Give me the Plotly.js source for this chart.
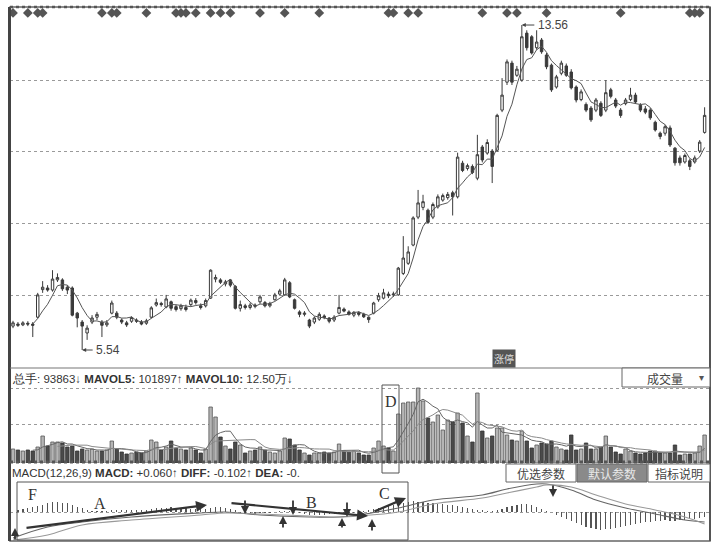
<!DOCTYPE html>
<html><head><meta charset="utf-8">
<script src="https://cdn.plot.ly/plotly-3.0.1.min.js"></script>
<style>html,body{margin:0;padding:0;background:#fff}#c{width:721px;height:551px}</style>
</head><body><div id="c"></div>
<script>
// ---- data ----
const opens = [6.13,6.18,6.16,6.20,6.18,6.35,7.03,7.07,7.02,7.27,
7.27,7.09,7.07,6.45,6.23,5.96,6.23,6.35,6.23,6.16,
6.45,6.45,6.28,6.21,6.25,6.28,6.23,6.20,6.35,6.65,
6.69,6.60,6.73,6.61,6.56,6.59,6.66,6.76,6.63,6.63,
6.82,7.29,7.27,7.17,7.27,7.11,6.57,6.63,6.59,6.65,
6.73,6.71,6.63,6.78,6.92,6.90,7.20,6.78,6.48,6.42,
6.28,6.23,6.30,6.38,6.33,6.28,6.45,6.55,6.48,6.40,
6.46,6.42,6.35,6.45,6.78,6.82,6.92,6.90,6.90,7.43,
7.68,8.13,8.82,9.06,8.99,8.82,9.07,9.24,9.30,9.42,
9.32,10.15,10.02,10.07,9.78,10.55,10.40,10.45,10.47,11.46,
12.15,12.62,12.32,12.20,13.36,13.27,13.00,13.19,12.82,12.57,
12.03,12.37,12.55,12.40,12.03,11.72,11.60,11.51,11.46,11.63,
11.46,11.96,11.71,11.46,11.62,11.72,11.83,11.58,11.49,11.46,
11.16,10.89,10.89,11.02,10.52,10.28,10.18,10.21,10.18,10.45,
10.91];
const highs = [6.26,6.23,6.25,6.25,6.23,6.95,7.24,7.14,7.51,7.43,
7.31,7.14,7.11,6.48,6.28,6.15,6.40,6.48,6.28,6.28,
6.76,6.50,6.32,6.26,6.37,6.32,6.28,6.31,6.62,6.81,
6.73,6.90,6.76,6.66,6.68,6.66,6.81,6.82,6.69,6.81,
7.53,7.40,7.31,7.27,7.29,7.14,6.76,6.68,6.71,6.69,
6.90,6.75,6.73,6.95,7.05,7.32,7.24,6.81,6.52,6.50,
6.31,6.37,6.47,6.42,6.35,6.40,6.90,6.59,6.52,6.50,
6.50,6.46,6.37,6.73,6.95,7.05,6.98,6.98,7.59,8.35,
8.10,8.84,9.49,9.37,9.03,9.18,9.38,9.40,9.44,9.47,
10.41,10.21,10.14,10.12,10.85,10.60,10.74,10.50,11.37,12.25,
12.71,12.68,12.55,13.56,13.43,13.31,13.43,13.24,12.87,12.61,
12.33,12.68,12.61,12.47,12.07,11.97,11.65,11.56,11.76,11.68,
12.20,12.01,11.76,11.51,11.76,12.01,11.89,11.63,11.56,11.51,
11.20,10.93,11.10,11.08,10.55,10.34,10.39,10.26,10.34,10.72,
11.53];
const lows = [6.08,6.11,6.13,6.13,5.86,6.32,6.95,6.98,6.98,7.22,
7.00,6.92,6.37,6.10,5.54,5.79,6.18,6.28,5.86,6.11,
6.42,6.30,6.18,6.11,6.21,6.21,6.15,6.16,6.32,6.61,
6.61,6.57,6.51,6.49,6.51,6.49,6.61,6.66,6.54,6.59,
6.80,7.21,7.17,7.11,7.09,6.54,6.49,6.54,6.54,6.57,
6.68,6.59,6.59,6.76,6.88,6.88,6.82,6.54,6.35,6.37,
6.08,6.18,6.26,6.30,6.20,6.23,6.42,6.47,6.39,6.35,
6.37,6.33,6.21,6.42,6.73,6.79,6.82,6.85,6.88,7.39,
7.64,8.10,8.77,8.99,8.65,8.77,9.03,9.20,9.25,8.86,
9.28,9.93,9.97,9.88,9.73,10.17,10.36,9.66,10.43,11.41,
12.08,12.08,12.28,12.16,12.93,12.83,12.95,12.85,12.47,11.91,
11.99,12.32,12.28,11.97,11.65,11.68,11.41,11.17,11.41,11.29,
11.41,11.75,11.51,11.27,11.58,11.68,11.62,11.41,11.36,11.22,
10.93,10.74,10.83,10.55,10.09,10.09,10.14,9.98,10.14,10.40,
10.88];
const closes = [6.21,6.15,6.21,6.18,6.15,6.90,7.09,7.02,7.29,7.33,
7.05,7.02,6.40,6.33,6.13,6.08,6.33,6.42,6.15,6.21,
6.70,6.35,6.23,6.16,6.34,6.25,6.18,6.26,6.58,6.71,
6.66,6.80,6.57,6.54,6.63,6.54,6.77,6.71,6.59,6.76,
7.51,7.33,7.21,7.22,7.14,6.57,6.66,6.59,6.65,6.62,
6.85,6.63,6.69,6.90,7.00,7.27,6.85,6.57,6.42,6.45,
6.13,6.33,6.42,6.34,6.25,6.35,6.59,6.50,6.42,6.47,
6.42,6.36,6.29,6.70,6.88,6.95,6.88,6.92,7.56,7.81,
7.96,8.80,9.17,9.20,8.69,9.13,9.32,9.35,9.38,9.32,
10.30,9.97,10.09,9.92,10.36,10.23,10.66,10.07,11.33,11.83,
12.65,12.15,12.47,13.27,13.00,12.87,13.14,12.90,12.53,11.96,
12.28,12.62,12.32,12.01,11.71,11.91,11.46,11.22,11.71,11.33,
11.89,11.80,11.56,11.33,11.71,11.83,11.66,11.46,11.41,11.27,
10.97,10.81,11.05,10.60,10.16,10.16,10.34,10.07,10.28,10.67,
11.33];
const volumes = [105000,97500,90000,97500,90000,120000,202500,127500,157500,157500,
150000,120000,127500,90000,105000,97500,105000,90000,90000,97500,
165000,105000,82500,67500,75000,82500,75000,90000,172500,157500,
97500,120000,165000,112500,105000,97500,112500,97500,75000,105000,
420000,345000,195000,127500,105000,157500,135000,75000,90000,97500,
120000,97500,82500,75000,90000,187500,180000,135000,97500,75000,
60000,75000,75000,82500,75000,82500,142500,90000,82500,90000,
75000,60000,60000,112500,165000,127500,112500,90000,367500,450000,
457500,457500,562500,465000,337500,307500,360000,247500,322500,307500,
375000,300000,202500,157500,525000,240000,187500,202500,262500,262500,
210000,172500,165000,240000,165000,112500,135000,150000,142500,165000,
120000,105000,97500,210000,97500,105000,150000,105000,105000,120000,
202500,120000,82500,67500,105000,90000,75000,67500,75000,90000,
90000,75000,75000,75000,135000,60000,67500,67500,75000,127500,
210000];
const macdHist = [0,
0.02,0.03,0.04,0.05,0.06,0.07,0.09,0.10,0.10,0.09,0.09,0.07,0.05,0.04,0.02,0.01,
0.01,0.01,0.01,0.02,0.02,0.02,0.02,0.02,0.02,0.02,0.02,0.03,0.04,0.04,0.04,0.05,0.04,0.04,0.04,0.03,0.03,0.03,0.03,0.04,0.05,0.05,0.04,0.03,0.02,
-0.01,-0.02,-0.02,-0.02,-0.01,-0.01,-0.01,0.00,0.01,0.01,0.01,0.00,-0.01,-0.02,-0.03,-0.03,-0.03,-0.03,-0.02,-0.02,-0.02,-0.01,-0.01,-0.01,0.01,0.01,
0.02,0.03,0.04,0.05,0.06,0.07,0.08,0.09,0.10,
0.11,0.10,0.10,0.09,0.09,0.08,0.08,0.07,0.07,0.06,0.05,0.04,
0.03,0.02,0.02,0.01,0.01,0.02,0.03,
0.05,0.06,0.07,0.08,0.08,0.07,0.05,0.03,
0.01,0.00,
-0.03,-0.05,-0.07,-0.09,-0.11,-0.13,-0.15,-0.16,-0.17,-0.18,-0.17,-0.17,-0.16,-0.15,-0.14,-0.13,-0.12,-0.11,-0.10,-0.10,-0.09,-0.09,-0.08,-0.09,-0.09,-0.08,-0.08,-0.07,-0.07,-0.06,-0.05];
const lineIdx = [0,7,14,24,38,43,50,60,66,70,78,85,95,100,106,108,113,118,124,130,136,140];
const difVals = [-0.26,-0.15,-0.10,-0.05,-0.01,0.00,-0.03,-0.05,-0.05,-0.03,0.04,0.12,0.17,0.23,0.28,0.28,0.22,0.12,0.04,-0.02,-0.08,-0.10];
const deaVals = [-0.28,-0.23,-0.13,-0.08,-0.03,-0.01,-0.02,-0.04,-0.05,-0.04,0.00,0.08,0.14,0.19,0.25,0.27,0.25,0.17,0.08,0.02,-0.05,-0.12];
const markerIdx = [0,3,5,6,18,20,21,27,33,34,35,37,40,42,44,50,55,62,76,77,80,82,95,100,102,108,123,137,138,139];
const highIdx = 103, highVal = 13.56, lowIdx = 14, lowVal = 5.54;
const volLabel = "总手: 93863↓ <b>MAVOL5:</b> 101897↑ <b>MAVOL10:</b> 12.50万↓";
const macdLabel = "MACD(12,26,9) <b>MACD:</b> +0.060↑ <b>DIFF:</b> -0.102↑ <b>DEA:</b> -0.";

// ---- helpers ----
const idx = closes.map((_, i) => i);
function sma(a, n) { return a.map((_, i) => { if (i < n - 1) return null; let s = 0; for (let k = i - n + 1; k <= i; k++) s += a[k]; return s / n; }); }
const up = closes.map((c, i) => c >= opens[i]);
const W = 721, H = 551;
const px = x => x / W, py = y => 1 - y / H;
function rect(x0, y0, x1, y1, o) { return Object.assign({type:'rect', xref:'paper', yref:'paper', x0:px(x0), x1:px(x1), y0:py(y1), y1:py(y0), line:{color:'#555', width:1}, layer:'above'}, o || {}); }
function seg(x0, y0, x1, y1, o) { return Object.assign({type:'line', xref:'paper', yref:'paper', x0:px(x0), x1:px(x1), y0:py(y0), y1:py(y1), line:{color:'#555', width:1}, layer:'above'}, o || {}); }
function txt(s, x, y, o) { return Object.assign({xref:'paper', yref:'paper', x:px(x), y:py(y), text:s, showarrow:false, xanchor:'left', yanchor:'middle', font:{family:'Liberation Sans, Arial', size:11.5, color:'#333'}}, o || {}); }
function arr(x1, y1, x2, y2, o) { return Object.assign({xref:'paper', yref:'paper', x:px(x2), y:py(y2), ax:x1 - x2, ay:y1 - y2, axref:'pixel', ayref:'pixel', text:'', showarrow:true, arrowhead:2, arrowsize:1, arrowwidth:2.2, arrowcolor:'#333'}, o || {}); }
const small = {arrowwidth:1.8, arrowsize:0.9};

const traces = [
  {type:'candlestick', x:idx, open:opens, high:highs, low:lows, close:closes, xaxis:'x', yaxis:'y',
   increasing:{line:{color:'#3a3a3a', width:1}, fillcolor:'#ffffff'}, decreasing:{line:{color:'#3a3a3a', width:1}, fillcolor:'#3a3a3a'},
   whiskerwidth:0, hoverinfo:'skip'},
  {type:'scatter', mode:'lines', x:idx, y:sma(closes, 5), xaxis:'x', yaxis:'y', line:{color:'#555', width:1}, hoverinfo:'skip'},
  {type:'scatter', mode:'markers', x:markerIdx, y:markerIdx.map(() => 13.857), xaxis:'x', yaxis:'y', marker:{symbol:'diamond', size:7.5, color:'#555'}, hoverinfo:'skip'},
  {type:'bar', x:idx, y:volumes, xaxis:'x', yaxis:'y2', width:0.7,
   marker:{color:up.map(u => u ? '#b5b5b5' : '#4a4a4a'), line:{color:up.map(u => u ? '#555' : '#333'), width:0.8}}, hoverinfo:'skip'},
  {type:'scatter', mode:'lines', x:idx, y:sma(volumes, 5), xaxis:'x', yaxis:'y2', line:{color:'#666', width:1}, hoverinfo:'skip'},
  {type:'scatter', mode:'lines', x:idx, y:sma(volumes, 10), xaxis:'x', yaxis:'y2', line:{color:'#8a8a8a', width:1}, hoverinfo:'skip'},
  {type:'bar', x:idx, y:macdHist, xaxis:'x', yaxis:'y3', width:0.25, marker:{color:'#555', line:{width:0}}, hoverinfo:'skip'},
  {type:'scatter', mode:'lines', x:lineIdx, y:difVals, xaxis:'x', yaxis:'y3', line:{color:'#666', width:1.1, shape:'spline'}, hoverinfo:'skip'},
  {type:'scatter', mode:'lines', x:lineIdx, y:deaVals, xaxis:'x', yaxis:'y3', line:{color:'#999', width:1.1, shape:'spline'}, hoverinfo:'skip'}
];

const grid = {showticklabels:false, ticks:'', zeroline:false, showline:false, gridcolor:'#9a9a9a', griddash:'dot', gridwidth:1, fixedrange:true};
const layout = {
  width:W, height:H, margin:{l:0, r:0, t:0, b:0}, paper_bgcolor:'#fff', plot_bgcolor:'#fff',
  showlegend:false, hovermode:false, bargap:0,
  xaxis:{domain:[px(10), px(710)], range:[-0.61, 141.09], showgrid:false, zeroline:false, showticklabels:false, ticks:'', showline:false, rangeslider:{visible:false}, anchor:'y3', fixedrange:true},
  yaxis:Object.assign({domain:[py(368), py(8)], range:[5.096, 13.98], tickvals:[6.897, 8.674, 10.451, 12.203]}, grid),
  yaxis2:Object.assign({domain:[py(463), py(386)], range:[0, 577500], tickvals:[292500, 562500]}, grid),
  yaxis3:Object.assign({domain:[py(541), py(482)], range:[-0.29, 0.30], tickvals:[0, 0.29]}, grid),
  shapes:[
    rect(10, 7, 710, 541, {line:{color:'#666', width:1.5}}),
    seg(9.5, 7, 9.5, 541, {line:{color:'#444', width:3}}),
    seg(710, 7, 710, 541, {line:{color:'#555', width:2}}),
    seg(10, 7, 710, 7, {line:{color:'#555', width:2.5, dash:'dot'}}),
    seg(10, 368, 710, 368, {line:{color:'#777', width:1.2}}),
    seg(10, 462, 710, 462, {line:{color:'#555', width:3, dash:'dot'}}),
    rect(622, 368, 710, 387, {fillcolor:'#fff', line:{color:'#666', width:1}}),
    rect(506, 464, 576, 482, {fillcolor:'#fff', line:{color:'#666', width:1}}),
    rect(577, 464, 647, 482, {fillcolor:'#8a8a8a', line:{color:'#666', width:1}}),
    rect(648, 464, 710, 482, {fillcolor:'#fff', line:{color:'#666', width:1}}),
    rect(382, 385, 399, 473, {line:{color:'#555', width:1}}),
    rect(17, 482, 408, 540, {line:{color:'#555', width:1}})
  ],
  annotations:[
    txt(volLabel, 10, 378),
    txt(macdLabel, 10, 473),
    txt('成交量', 665, 378, {xanchor:'center', font:{family:'Noto Sans CJK SC', size:12, color:'#444'}}),
    txt('▾', 701, 377, {xanchor:'center', font:{family:'DejaVu Sans', size:10, color:'#555'}}),
    txt('优选参数', 541, 473, {xanchor:'center', font:{family:'Noto Sans CJK SC', size:12, color:'#444'}}),
    txt('默认参数', 612, 473, {xanchor:'center', font:{family:'Noto Sans CJK SC', size:12, color:'#e8e8e8'}}),
    txt('指标说明', 679, 473, {xanchor:'center', font:{family:'Noto Sans CJK SC', size:12, color:'#444'}}),
    txt('涨停', 504, 358, {xanchor:'center', bgcolor:'#555', borderpad:1, font:{family:'Noto Sans CJK SC', size:10, color:'#ddd'}}),
    {xref:'x', yref:'y', x:highIdx, y:highVal, ax:14, ay:0, axref:'pixel', ayref:'pixel', text:'', showarrow:true, arrowhead:2, arrowsize:0.8, arrowwidth:1, arrowcolor:'#444'},
    {xref:'x', yref:'y', x:highIdx, y:highVal, text:String(highVal), showarrow:false, xanchor:'left', yanchor:'middle', xshift:14, font:{family:'Liberation Sans, Arial', size:12, color:'#444'}},
    {xref:'x', yref:'y', x:lowIdx, y:lowVal, ax:12, ay:0, axref:'pixel', ayref:'pixel', text:'', showarrow:true, arrowhead:2, arrowsize:0.8, arrowwidth:1, arrowcolor:'#444'},
    {xref:'x', yref:'y', x:lowIdx, y:lowVal, text:String(lowVal), showarrow:false, xanchor:'left', yanchor:'middle', xshift:12, font:{family:'Liberation Sans, Arial', size:12, color:'#444'}},
    txt('F', 32, 494, {xanchor:'center', font:{family:'Liberation Serif', size:16, color:'#333'}}),
    txt('A', 100, 503, {xanchor:'center', font:{family:'Liberation Serif', size:16, color:'#333'}}),
    txt('B', 311, 502, {xanchor:'center', font:{family:'Liberation Serif', size:16, color:'#333'}}),
    txt('C', 384, 493, {xanchor:'center', font:{family:'Liberation Serif', size:16, color:'#333'}}),
    txt('D', 391, 401, {xanchor:'center', font:{family:'Liberation Serif', size:16, color:'#333'}}),
    arr(25, 528, 207, 505),
    arr(230, 503, 368, 516),
    arr(373, 512, 406, 498),
    arr(245, 499, 245, 514, small),
    arr(293, 499, 293, 515, small),
    arr(347, 501, 347, 517, small),
    arr(553, 484, 553, 497, small),
    arr(15, 541, 15, 528, small),
    arr(283, 529, 283, 516, small),
    arr(342, 529, 342, 518, small),
    arr(372, 532, 372, 519, small)
  ]
};
Plotly.newPlot('c', traces, layout, {staticPlot:true, displayModeBar:false});
</script></body></html>
